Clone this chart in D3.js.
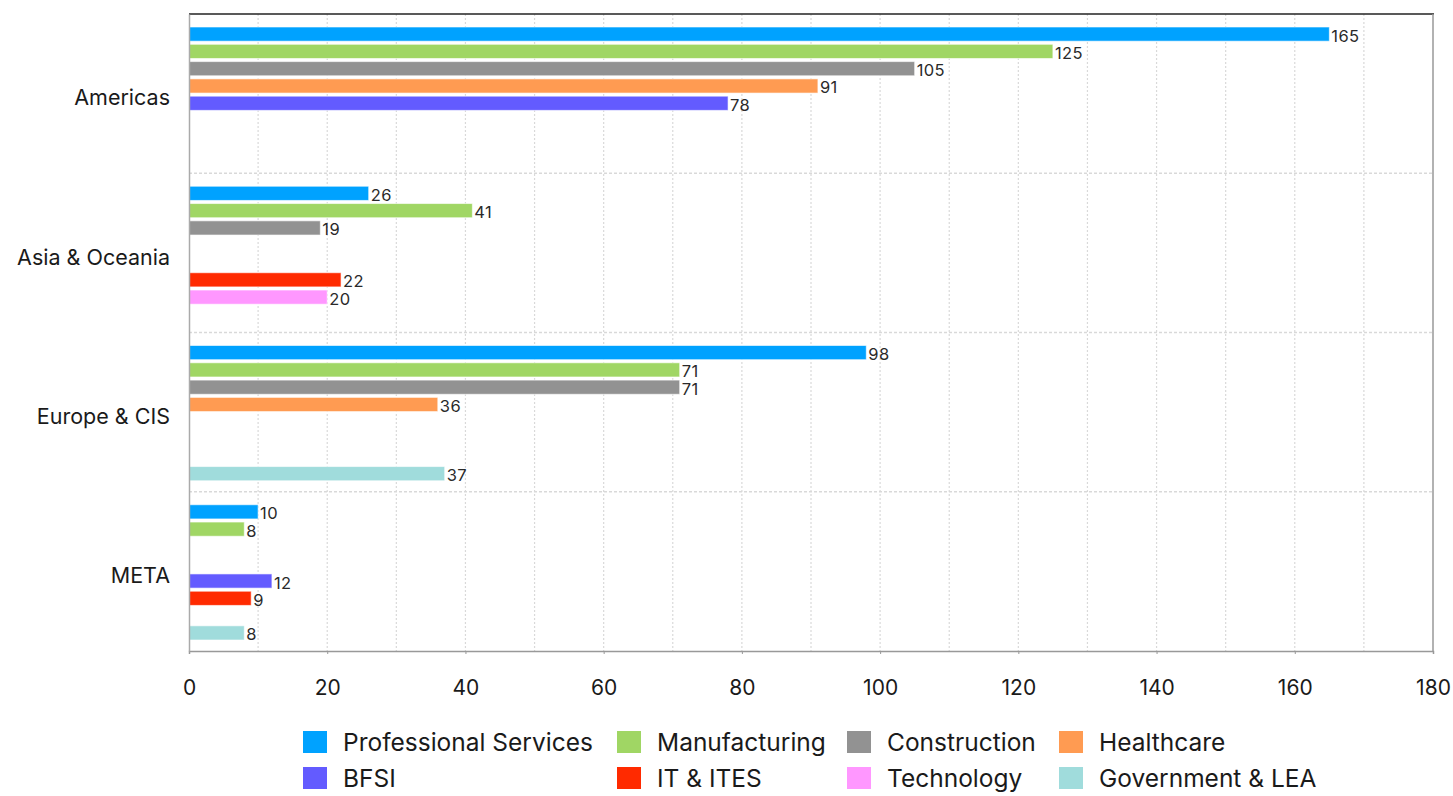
<!DOCTYPE html>
<html>
<head>
<meta charset="utf-8">
<script src="https://cdn.jsdelivr.net/npm/d3@7"></script>
<style>
  html, body { margin: 0; padding: 0; background: #fff; overflow: hidden; }
  svg { display: block; font-family: Inter, "Open Sans", sans-serif; }
</style>
</head>
<body>
<svg id="chart" width="1453" height="796"></svg>
<script>
// Regions shown on the vertical axis
const regions = ["Americas", "Asia & Oceania", "Europe & CIS", "META"];

// Industry series (null = no value for that region)
const industries = ["Professional Services", "Manufacturing", "Construction", "Healthcare",
                    "BFSI", "IT & ITES", "Technology", "Government & LEA"];
const professionalServices = [165, 26, 98, 10];
const manufacturing        = [125, 41, 71, 8];
const construction         = [105, 19, 71, null];
const healthcare           = [91, null, 36, null];
const bfsi                 = [78, null, null, 12];
const itItes               = [null, 22, null, 9];
const technology           = [null, 20, null, null];
const governmentLea        = [null, null, 37, 8];
const seriesValues = [professionalServices, manufacturing, construction, healthcare,
                      bfsi, itItes, technology, governmentLea];

const colors = ["#00a2ff", "#a0d664", "#929292", "#ff9b52",
                "#635bff", "#ff2a00", "#ff97ff", "#a0dcdc"];

const xTicks = [0, 20, 40, 60, 80, 100, 120, 140, 160, 180];

const svg = d3.select("#chart");
const margin = { left: 189, top: 14 };
const plotRight = 1433, plotBottom = 651;

const x = d3.scaleLinear().domain([0, 180]).range([margin.left, plotRight]);
const y0 = d3.scaleBand().domain(regions).range([margin.top, plotBottom]).paddingInner(0).paddingOuter(0);
const y1 = d3.scaleBand().domain(industries).range([13, y0.bandwidth() - 11]).paddingInner(0.18).paddingOuter(0);

const color = d3.scaleOrdinal().domain(industries).range(colors);

// grid: vertical dotted lines every 10 units
const grid = svg.append("g");
grid.selectAll("line.vg")
  .data(d3.range(10, 180, 10))
  .join("line")
  .attr("x1", d => x(d)).attr("x2", d => x(d))
  .attr("y1", margin.top).attr("y2", plotBottom)
  .attr("stroke", "#d9d9d9").attr("stroke-width", 1.2)
  .attr("stroke-dasharray", "2,2");

// horizontal dashed separators between regions
grid.selectAll("line.hg")
  .data(regions.slice(1))
  .join("line")
  .attr("x1", margin.left).attr("x2", plotRight)
  .attr("y1", d => y0(d)).attr("y2", d => y0(d))
  .attr("stroke", "#d9d9d9").attr("stroke-width", 1.4)
  .attr("stroke-dasharray", "3,2");

// bars
const rows = [];
regions.forEach((r, ri) => {
  industries.forEach((ind, si) => {
    const v = seriesValues[si][ri];
    if (v !== null) rows.push({ region: r, industry: ind, value: v });
  });
});

const bars = svg.append("g");
bars.selectAll("rect")
  .data(rows)
  .join("rect")
  .attr("x", x(0))
  .attr("y", d => y0(d.region) + y1(d.industry))
  .attr("width", d => x(d.value) - x(0))
  .attr("height", y1.bandwidth())
  .attr("fill", d => color(d.industry))
  .attr("stroke", "rgba(255,255,255,0.6)")
  .attr("stroke-width", 1);

bars.selectAll("text")
  .data(rows)
  .join("text")
  .attr("x", d => x(d.value) + 2)
  .attr("y", d => y0(d.region) + y1(d.industry) + y1.bandwidth() / 2 + 7.5)
  .attr("font-size", 16.5)
  .attr("letter-spacing", 0.4)
  .attr("fill", "#2a2a2a")
  .text(d => d.value);

// frame: top dark, right gray
svg.append("line").attr("x1", margin.left).attr("x2", plotRight + 1)
  .attr("y1", margin.top).attr("y2", margin.top)
  .attr("stroke", "#222").attr("stroke-width", 1.5);
svg.append("line").attr("x1", plotRight).attr("x2", plotRight)
  .attr("y1", margin.top).attr("y2", plotBottom)
  .attr("stroke", "#999").attr("stroke-width", 1.5);

// x axis
const xAxis = svg.append("g")
  .attr("transform", `translate(0,${plotBottom})`)
  .call(d3.axisBottom(x).tickValues(xTicks).tickSize(3).tickPadding(26).tickFormat(d3.format("d")));
xAxis.select(".domain").attr("stroke", "#999").attr("stroke-width", 1.5);
xAxis.selectAll(".tick line").attr("stroke", "#999");
xAxis.selectAll(".tick text").attr("font-size", 21).attr("fill", "#1a1a1a")
  .attr("font-family", "Inter, sans-serif");

// y axis
const yAxis = svg.append("g")
  .attr("transform", `translate(${margin.left},0)`)
  .call(d3.axisLeft(y0).tickSize(0).tickPadding(19));
yAxis.select(".domain").attr("stroke", "#aaa").attr("stroke-width", 1.5);
yAxis.selectAll(".tick text").attr("font-size", 21.5).attr("fill", "#1a1a1a")
  .attr("dy", "0.55em").attr("font-family", "Inter, sans-serif");

// legend
const legendCols = [303, 617, 847, 1059];
const legendRows = [731, 767];
const legend = svg.append("g");
const items = legend.selectAll("g")
  .data(industries)
  .join("g")
  .attr("transform", (d, i) => `translate(${legendCols[i % 4]},${legendRows[Math.floor(i / 4)]})`);
items.append("rect")
  .attr("width", 24).attr("height", 22)
  .attr("fill", d => color(d));
items.append("text")
  .attr("x", 40).attr("y", 20)
  .attr("font-size", 24.5)
  .attr("fill", "#1a1a1a")
  .text(d => d);
</script>
</body>
</html>
